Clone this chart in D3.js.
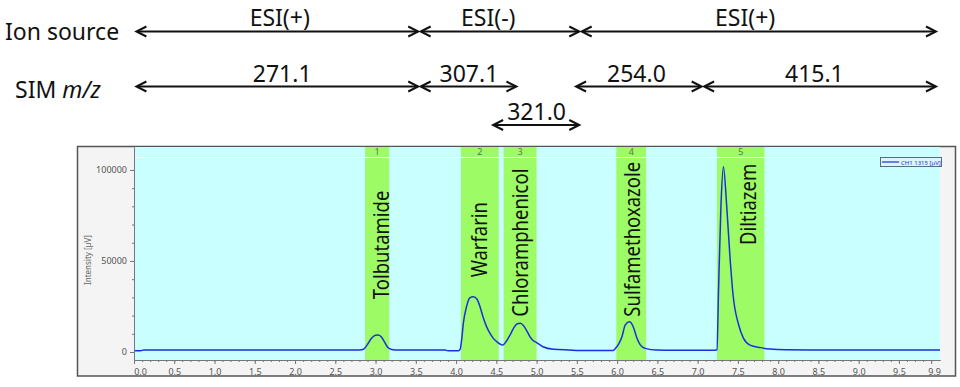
<!DOCTYPE html>
<html>
<head>
<meta charset="utf-8">
<script src="https://cdn.jsdelivr.net/npm/d3@7/dist/d3.min.js"></script>
<style>
  body { margin: 0; background: #fff; }
  text { font-family: "Noto Sans", "Open Sans", sans-serif; }
</style>
</head>
<body>
<script>
// chromatogram trace (time in min, intensity in uV)
const timeMin = [0.0, 0.08, 0.12, 2.80, 2.85, 2.90, 2.95, 3.00, 3.03, 3.07, 3.11, 3.15, 3.20, 3.28, 3.86,
  3.90, 4.03, 4.05, 4.07, 4.09, 4.13, 4.17, 4.215, 4.26, 4.30, 4.34, 4.38, 4.42, 4.46, 4.505, 4.58,
  4.62, 4.67, 4.72, 4.76, 4.80, 4.84, 4.88, 4.92, 4.96, 5.00, 5.08, 5.21, 5.40, 5.60, 5.95, 5.98,
  6.02, 6.06, 6.10, 6.15, 6.20, 6.24, 6.29, 6.35, 6.49, 6.70, 7.22, 7.24, 7.26, 7.29, 7.32, 7.36,
  7.40, 7.44, 7.51, 7.57, 7.65, 7.78, 7.90, 8.10, 8.40, 10.01];
const intensity = [700, 700, 1100, 1100, 1500, 4200, 7600, 9200, 9300, 8400, 5600, 2600, 1400, 1100, 1100,
  700, 700, 1400, 7000, 15700, 24900, 29700, 30400, 29000, 24500, 18500, 13800, 10300, 7600, 5700, 3800,
  5600, 9300, 13500, 15500, 15800, 14300, 11500, 8200, 6200, 5200, 2900, 1500, 1100, 800, 800, 2000,
  4500, 8400, 14800, 16600, 13900, 8400, 3800, 2000, 1100, 1000, 1000, 1300, 35000, 80800, 101800, 80800,
  53300, 31300, 14800, 7500, 3800, 2400, 1600, 1200, 1100, 1100];

// integration bands
const peakNo = ['1', '2', '3', '4', '5'];
const bandStart = [2.87, 4.06, 4.59, 5.99, 7.24];
const bandEnd = [3.17, 4.53, 5.00, 6.36, 7.83];
const peakNames = ['Tolbutamide', 'Warfarin', 'Chloramphenicol', 'Sulfamethoxazole', 'Diltiazem'];
const nameAtTime = [3.17, 4.38, 4.89, 6.29, 7.73];
const nameFromValue = [29000, 41000, 19400, 19400, 58800];

// ion source and SIM windows (time in min)
const ionLabels = ['ESI(+)', 'ESI(-)', 'ESI(+)'];
const ionFrom = [0.03, 3.56, 5.56];
const ionTo = [3.53, 5.53, 9.96];
const ionLabelAt = [1.81, 4.40, 7.59];
const simLabels = ['271.1', '307.1', '321.0', '254.0', '415.1'];
const simFrom = [0.03, 3.56, 4.46, 5.49, 7.08];
const simTo = [3.53, 4.75, 5.53, 7.05, 9.96];
const simRow = [0, 0, 1, 0, 0];
const simLabelAt = [1.84, 4.16, 5.00, 6.24, 8.45];

const xTicks = [0, 0.5, 1, 1.5, 2, 2.5, 3, 3.5, 4, 4.5, 5, 5.5, 6, 6.5, 7, 7.5, 8, 8.5, 9, 9.5, 9.9];
const yTicks = [0, 50000, 100000];

const width = 960, height = 387;
const svg = d3.select('body').append('svg').attr('width', width).attr('height', height);

const x = d3.scaleLinear().domain([0, 10.01]).range([134, 940]);
const y = d3.scaleLinear().domain([-4400, 112600]).range([360, 147]);

// frame
svg.append('rect')
  .attr('x', 77.5).attr('y', 146.5).attr('width', 878).attr('height', 229.5)
  .attr('fill', '#f4f4f4').attr('stroke', '#555').attr('stroke-width', 1.5);

svg.append('rect')
  .attr('x', x(0)).attr('y', y.range()[1])
  .attr('width', x(10.01) - x(0)).attr('height', y.range()[0] - y.range()[1])
  .attr('fill', '#c9ffff');

const bands = svg.append('g');
peakNo.forEach((n, i) => {
  bands.append('rect')
    .attr('x', x(bandStart[i])).attr('y', y.range()[1])
    .attr('width', x(bandEnd[i]) - x(bandStart[i]))
    .attr('height', y.range()[0] - y.range()[1])
    .attr('fill', '#9dfc66');
  bands.append('text')
    .attr('x', x((bandStart[i] + bandEnd[i]) / 2)).attr('y', 155)
    .attr('text-anchor', 'middle').attr('font-size', 9).attr('fill', '#4d7a4d')
    .text(n);
});

svg.append('line')
  .attr('x1', x(0)).attr('x2', x(10.01)).attr('y1', 157.5).attr('y2', 157.5)
  .attr('stroke', '#fff').attr('stroke-width', 1);

// peak names (narrowed a bit along the text direction)
peakNames.forEach((name, i) => {
  svg.append('text')
    .attr('transform', `translate(${x(nameAtTime[i])},${y(nameFromValue[i])}) rotate(-90) scale(0.88,1)`)
    .attr('font-size', 21).attr('fill', '#111')
    .text(name);
});

// trace
svg.append('defs').append('clipPath').attr('id', 'plotClip')
  .append('rect').attr('x', x(0)).attr('y', y.range()[1])
  .attr('width', x(10.01) - x(0)).attr('height', y.range()[0] - y.range()[1]);

const line = d3.line()
  .x((d, i) => x(timeMin[i]))
  .y(d => y(d))
  .curve(d3.curveMonotoneX);

svg.append('path')
  .datum(intensity)
  .attr('clip-path', 'url(#plotClip)')
  .attr('d', line)
  .attr('fill', 'none').attr('stroke', '#1a2fe0').attr('stroke-width', 1.5);

// axes
const xAxis = svg.append('g').attr('transform', `translate(0,${y.range()[0]})`)
  .call(d3.axisBottom(x).tickValues(xTicks).tickFormat(d3.format('.1f')).tickSize(4).tickSizeOuter(0));
svg.append('g').attr('transform', `translate(0,${y.range()[0]})`)
  .call(d3.axisBottom(x).tickValues(d3.range(0, 100).map(k => k / 10)).tickFormat('').tickSize(2).tickSizeOuter(0));
xAxis.selectAll('text').attr('dy', '0.9em');
xAxis.selectAll('.tick').filter(d => d === 0).select('text').attr('dx', 6);
xAxis.selectAll('.tick').filter(d => d === 9.9).select('text').attr('dx', 3);

const yAxis = svg.append('g').attr('transform', `translate(${x(0)},0)`)
  .call(d3.axisLeft(y).tickValues(yTicks).tickFormat(d3.format('d')).tickSize(4).tickSizeOuter(0));
svg.append('g').attr('transform', `translate(${x(0)},0)`)
  .call(d3.axisLeft(y).tickValues(d3.range(0, 11).map(k => k * 10000)).tickFormat('').tickSize(2).tickSizeOuter(0));

svg.selectAll('.domain').attr('stroke', '#777');
svg.selectAll('.tick line').attr('stroke', '#777');
svg.selectAll('.tick text').attr('fill', '#555').attr('font-size', 9)
  .attr('font-family', '"Noto Sans", sans-serif');

svg.append('text')
  .attr('transform', 'translate(91,260) rotate(-90)')
  .attr('text-anchor', 'middle').attr('font-size', 8).attr('fill', '#666')
  .text('Intensity [µV]');

// legend
const leg = svg.append('g');
leg.append('rect').attr('x', 880.5).attr('y', 157.5).attr('width', 61).attr('height', 9)
  .attr('fill', '#dcf6ff').attr('stroke', '#5a6a80');
leg.append('line').attr('x1', 882).attr('x2', 899).attr('y1', 162).attr('y2', 162)
  .attr('stroke', '#1a2fe0').attr('stroke-width', 1.2);
leg.append('text').attr('x', 901).attr('y', 164.5).attr('font-size', 6).attr('fill', '#1a2fe0')
  .text('CH1 1315 [µV]');

// double-headed arrows above the chart
function arrow(g, x1, x2, yy) {
  g.append('line').attr('x1', x1 + 1).attr('x2', x2 - 1).attr('y1', yy).attr('y2', yy)
    .attr('stroke', '#111').attr('stroke-width', 2);
  g.append('path').attr('d', `M${x1 + 10},${yy - 5} L${x1},${yy} L${x1 + 10},${yy + 5}`)
    .attr('fill', 'none').attr('stroke', '#111').attr('stroke-width', 2);
  g.append('path').attr('d', `M${x2 - 10},${yy - 5} L${x2},${yy} L${x2 - 10},${yy + 5}`)
    .attr('fill', 'none').attr('stroke', '#111').attr('stroke-width', 2);
}

const header = svg.append('g');
header.append('text').attr('x', 5).attr('y', 40).attr('font-size', 23).attr('fill', '#111').text('Ion source');
const simTitle = header.append('text').attr('x', 15).attr('y', 98).attr('font-size', 23).attr('fill', '#111');
simTitle.append('tspan').text('SIM ');
simTitle.append('tspan').attr('font-style', 'italic').text('m/z');

const ionY = 31.5, simY = [86.5, 125];
ionLabels.forEach((lab, i) => {
  arrow(header, x(ionFrom[i]), x(ionTo[i]), ionY);
  header.append('text').attr('x', x(ionLabelAt[i])).attr('y', 26)
    .attr('text-anchor', 'middle').attr('font-size', 23).attr('fill', '#111').text(lab);
});
simLabels.forEach((lab, i) => {
  const yy = simY[simRow[i]];
  arrow(header, x(simFrom[i]), x(simTo[i]), yy);
  header.append('text').attr('x', x(simLabelAt[i])).attr('y', yy - 5)
    .attr('text-anchor', 'middle').attr('font-size', 23).attr('fill', '#111').text(lab);
});
</script>
</body>
</html>
